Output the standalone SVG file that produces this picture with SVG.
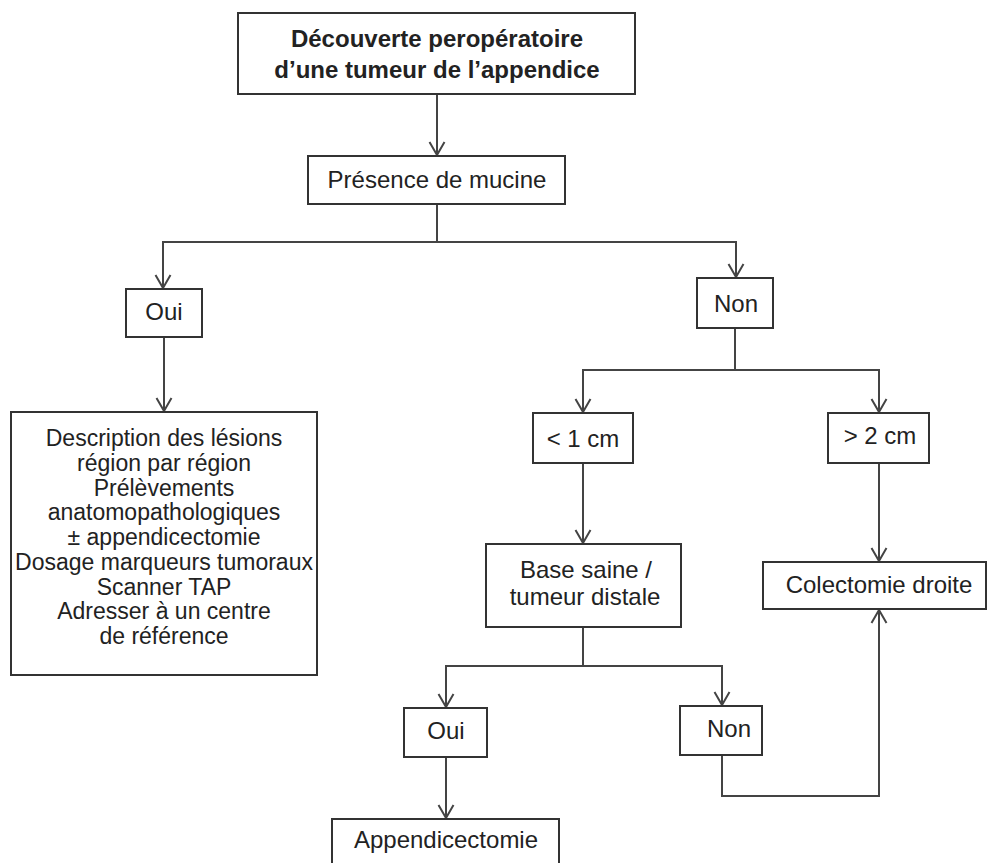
<svg xmlns="http://www.w3.org/2000/svg" width="990" height="863" viewBox="0 0 990 863">
<defs>
<style>
.box{fill:#fff;stroke:#333;stroke-width:2}
.t{font-family:"Liberation Sans",Arial,Helvetica,sans-serif;font-size:24px;fill:#222;text-anchor:middle}
.td{font-size:23px}
.tb{font-family:"Liberation Sans",Arial,Helvetica,sans-serif;font-size:24px;font-weight:bold;fill:#222;text-anchor:middle}
.c{fill:none;stroke:#444;stroke-width:2}
</style>
<marker id="arr" viewBox="-15 -9 17 18" refX="0" refY="0" markerWidth="17" markerHeight="18" markerUnits="userSpaceOnUse" orient="auto" overflow="visible">
<path d="M -13 -7.5 L 0 0 L -13 7.5" fill="none" stroke="#444" stroke-width="2"/>
</marker>
</defs>
<rect width="990" height="863" fill="#fff"/>
<g id="connectors">
<path class="c" d="M437 94 V155" marker-end="url(#arr)"/>
<path class="c" d="M437 204 V242 H163 V288" marker-end="url(#arr)"/>
<path class="c" d="M437 242 H736 V277" marker-end="url(#arr)"/>
<path class="c" d="M164 337 V411" marker-end="url(#arr)"/>
<path class="c" d="M735 328 V370 H583 V412" marker-end="url(#arr)"/>
<path class="c" d="M735 370 H879 V412" marker-end="url(#arr)"/>
<path class="c" d="M583 463 V543" marker-end="url(#arr)"/>
<path class="c" d="M879 463 V561" marker-end="url(#arr)"/>
<path class="c" d="M583 627 V666 H446 V707" marker-end="url(#arr)"/>
<path class="c" d="M583 666 H722 V705" marker-end="url(#arr)"/>
<path class="c" d="M446 757 V818" marker-end="url(#arr)"/>
<path class="c" d="M722 755 V796 H879 V610" marker-end="url(#arr)"/>
</g>
<g id="n-decouverte">
<rect class="box" x="238" y="13" width="397" height="81"/>
<text class="tb" x="437" y="47">Découverte peropératoire</text>
<text class="tb" x="437" y="78">d’une tumeur de l’appendice</text>
</g>
<g id="n-presence">
<rect class="box" x="308" y="156" width="257" height="48"/>
<text class="t" x="437" y="188">Présence de mucine</text>
</g>
<g id="n-oui1">
<rect class="box" x="126" y="289" width="76" height="48"/>
<text class="t" x="164" y="320">Oui</text>
</g>
<g id="n-non1">
<rect class="box" x="697" y="278" width="76" height="50"/>
<text class="t" x="736" y="312">Non</text>
</g>
<g id="n-description">
<rect class="box" x="11" y="412" width="306" height="263"/>
<text class="t td" x="164" y="446">Description des lésions</text>
<text class="t td" x="164" y="471">région par région</text>
<text class="t td" x="164" y="496">Prélèvements</text>
<text class="t td" x="164" y="520">anatomopathologiques</text>
<text class="t td" x="164" y="545">± appendicectomie</text>
<text class="t td" x="164" y="570">Dosage marqueurs tumoraux</text>
<text class="t td" x="164" y="595">Scanner TAP</text>
<text class="t td" x="164" y="619">Adresser à un centre</text>
<text class="t td" x="164" y="644">de référence</text>
</g>
<g id="n-lt1">
<rect class="box" x="533" y="413" width="100" height="50"/>
<text class="t" x="583" y="447">&lt; 1 cm</text>
</g>
<g id="n-gt2">
<rect class="box" x="828" y="413" width="101" height="50"/>
<text class="t" x="880" y="444">&gt; 2 cm</text>
</g>
<g id="n-base">
<rect class="box" x="486" y="544" width="195" height="83"/>
<text class="t" x="586" y="578">Base saine /</text>
<text class="t" x="585" y="605">tumeur distale</text>
</g>
<g id="n-colectomie">
<rect class="box" x="763" y="562" width="223" height="47"/>
<text class="t" x="879" y="593">Colectomie droite</text>
</g>
<g id="n-oui2">
<rect class="box" x="404" y="708" width="83" height="49"/>
<text class="t" x="446" y="739">Oui</text>
</g>
<g id="n-non2">
<rect class="box" x="680" y="706" width="82" height="49"/>
<text class="t" x="729" y="737">Non</text>
</g>
<g id="n-appendicectomie">
<rect class="box" x="332" y="819" width="227" height="60"/>
<text class="t" x="446" y="848">Appendicectomie</text>
</g>
</svg>
